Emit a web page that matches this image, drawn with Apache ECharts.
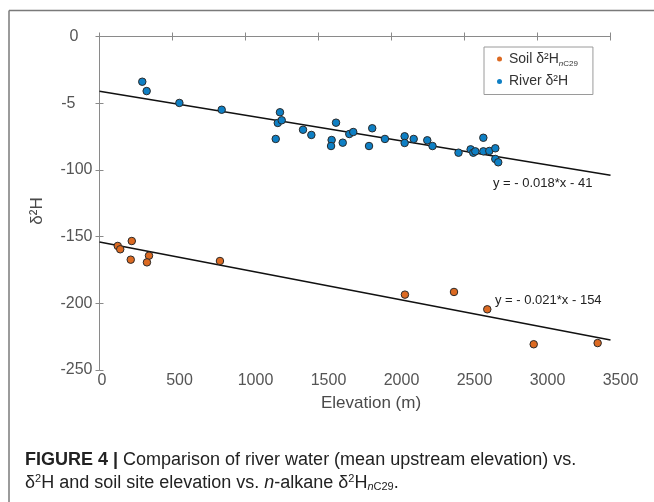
<!DOCTYPE html>
<html>
<head>
<meta charset="utf-8">
<title>Figure 4</title>
<script src="https://cdn.jsdelivr.net/npm/echarts@6/dist/echarts.min.js"></script>
<style>
  html, body { margin: 0; padding: 0; background: #fff; }
  #chart { width: 654px; height: 502px; }
</style>
</head>
<body>
<div id="chart"></div>
<script>
// River water: mean upstream elevation (m) vs. d2H
const riverElev = [293, 323, 547, 837, 1236, 1221, 1248, 1207, 1394, 1451,
  1620, 1590, 1586, 1666, 1711, 1738, 1868, 1846, 1955, 2090,
  2090, 2152, 2245, 2281, 2459, 2542, 2560, 2574, 2629, 2629,
  2670, 2711, 2711, 2731];
const riverD2H = [-33.9, -40.9, -49.8, -54.9, -56.8, -64.8, -62.8, -76.8, -69.9, -73.8,
  -64.6, -77.6, -82.1, -79.6, -73.1, -71.6, -68.8, -82.1, -76.8, -74.8,
  -79.8, -76.8, -77.8, -82.1, -87.1, -84.6, -87.1, -86.1, -75.9, -86.1,
  -85.8, -83.8, -91.8, -94.3];

// Soil sites: elevation (m) vs. n-alkane d2H nC29
const soilElev = [125, 142, 221, 214, 339, 325, 825, 2092, 2428, 2656, 2974, 3412];
const soilD2H = [-157.0, -159.5, -153.3, -167.3, -164.3, -169.3, -168.3, -193.5, -191.5, -204.5, -230.7, -229.8];

// regression lines as printed on the figure: [river, soil]
const fitSlope = [-0.018, -0.021];
const fitIntercept = [-41, -154];
const fitLabels = ['y = - 0.018*x - 41', 'y = - 0.021*x - 154'];

const xTicks = [0, 500, 1000, 1500, 2000, 2500, 3000, 3500];
const yTicks = [-250, -200, -150, -100, -50, 0];
const yTickLabels = ['-250', '-200', '-150', '-100', '-5', '0'];

const X_MIN = xTicks[0], X_MAX = xTicks[xTicks.length - 1];
const FONT = "'Liberation Sans', Arial, Helvetica, sans-serif";
const FRAME = '#8a8a8a';
const SOIL = '#dc6a22';
const RIVER = '#0e7fc4';

const zip = (xs, ys) => xs.map((x, i) => [x, ys[i]]);
const fitLine = (k) => [
  [X_MIN, fitSlope[k] * X_MIN + fitIntercept[k]],
  [X_MAX, fitSlope[k] * X_MAX + fitIntercept[k]],
];

const chart = echarts.init(document.getElementById('chart'), null, { renderer: 'canvas' });

const sideAxis = {
  axisLine: { show: true, lineStyle: { color: FRAME, width: 1 } },
  axisTick: { show: true, inside: true, length: 4, lineStyle: { color: FRAME } },
  splitLine: { show: false },
};

chart.setOption({
  animation: false,
  backgroundColor: '#fff',
  textStyle: { fontFamily: FONT },
  grid: { left: 99.5, right: 43.5, top: 36.5, bottom: 132, containLabel: false },
  legend: {
    data: ['Soil', 'River'],
    orient: 'vertical',
    left: 484,
    top: 47,
    icon: 'circle',
    itemWidth: 5,
    itemHeight: 5,
    itemGap: 7,
    padding: [5, 15, 6, 13],
    borderColor: '#9a9a9a',
    borderWidth: 1,
    borderRadius: 0,
    itemStyle: { borderWidth: 0 },
    textStyle: {
      fontFamily: FONT,
      fontSize: 14,
      color: '#333',
      padding: [0, 0, 0, 2],
      rich: {
        t: { fontSize: 14, color: '#333', lineHeight: 16, fontFamily: FONT },
        si: { fontSize: 8, fontStyle: 'italic', color: '#333', padding: [9, 0, 0, 0], fontFamily: FONT },
        s: { fontSize: 8, color: '#333', padding: [9, 0, 0, 0], fontFamily: FONT },
      },
    },
    formatter: (name) => name === 'Soil' ? '{t|Soil δ²H}{si|n}{s|C29}' : '{t|River δ²H}',
  },
  xAxis: [
    {
      type: 'value', min: X_MIN, max: X_MAX, interval: 500, position: 'bottom',
      ...sideAxis,
      name: 'Elevation (m)',
      nameLocation: 'middle',
      nameGap: 25,
      nameTextStyle: { fontSize: 17, color: '#4a4a4a', fontFamily: FONT, padding: [0, 0, 0, 32] },
      axisLabel: {
        margin: 3, fontSize: 16, color: '#555', fontFamily: FONT,
        formatter: (v) => {
          const s = String(v);
          return '{d' + s.length + '|' + s + '}';
        },
        rich: {
          d1: { fontSize: 16, color: '#555', padding: [0, 0, 0, 5], fontFamily: FONT },
          d3: { fontSize: 16, color: '#555', padding: [0, 0, 0, 14], fontFamily: FONT },
          d4: { fontSize: 16, color: '#555', padding: [0, 0, 0, 20], fontFamily: FONT },
        },
      },
    },
    {
      type: 'value', min: X_MIN, max: X_MAX, interval: 500, position: 'top',
      ...sideAxis,
      axisLabel: { show: false },
    },
  ],
  yAxis: [
    {
      type: 'value', min: yTicks[0], max: yTicks[yTicks.length - 1], interval: 50, position: 'left',
      ...sideAxis,
      axisLabel: {
        margin: 7, fontSize: 16, color: '#555', fontFamily: FONT,
        formatter: (v) => {
          const lab = yTickLabels[yTicks.indexOf(v)];
          if (lab === '0') return '{z|0}';
          if (lab === '-5') return '{f|-5}';
          return lab;
        },
        rich: {
          z: { fontSize: 16, color: '#555', padding: [0, 14, 0, 0], fontFamily: FONT },
          f: { fontSize: 16, color: '#555', padding: [0, 17, 0, 0], fontFamily: FONT },
        },
      },
    },
    {
      type: 'value', min: yTicks[0], max: yTicks[yTicks.length - 1], interval: 50, position: 'right',
      ...sideAxis,
      axisLabel: { show: false },
    },
  ],
  series: [
    {
      name: 'Soil', type: 'scatter', symbolSize: 7.5, data: zip(soilElev, soilD2H), z: 3,
      itemStyle: { color: SOIL, borderColor: '#2a2a2a', borderWidth: 1, opacity: 1 },
    },
    {
      name: 'River', type: 'scatter', symbolSize: 7.5, data: zip(riverElev, riverD2H), z: 3,
      itemStyle: { color: RIVER, borderColor: '#2a2a2a', borderWidth: 1, opacity: 1 },
    },
    {
      name: 'river fit', type: 'line', data: fitLine(0), showSymbol: false, symbol: 'none',
      lineStyle: { color: '#111', width: 1.5 }, z: 2, silent: true,
    },
    {
      name: 'soil fit', type: 'line', data: fitLine(1), showSymbol: false, symbol: 'none',
      lineStyle: { color: '#111', width: 1.5 }, z: 2, silent: true,
    },
  ],
  graphic: [
    // outer figure frame
    { type: 'line', shape: { x1: 9, y1: 10.5, x2: 654, y2: 10.5 }, style: { stroke: '#7a7a7a', lineWidth: 1.5 } },
    { type: 'line', shape: { x1: 9, y1: 10.5, x2: 9, y2: 502 }, style: { stroke: '#7a7a7a', lineWidth: 1.5 } },
    // y axis title
    {
      type: 'text', x: 37.5, y: 211, rotation: Math.PI / 2,
      style: { text: 'δ²H', fontSize: 17, fill: '#4a4a4a', fontFamily: FONT, align: 'center', verticalAlign: 'middle' },
    },
    // fit equations
    {
      type: 'text', x: 493, y: 183,
      style: { text: fitLabels[0], fontSize: 13, fill: '#222', fontFamily: FONT, verticalAlign: 'middle' },
    },
    {
      type: 'text', x: 495, y: 300,
      style: { text: fitLabels[1], fontSize: 13, fill: '#222', fontFamily: FONT, verticalAlign: 'middle' },
    },
    // caption
    {
      type: 'text', x: 25, y: 460,
      style: {
        text: '{b|FIGURE 4 |} Comparison of river water (mean upstream elevation) vs.',
        fontSize: 18, fill: '#222', fontFamily: FONT, verticalAlign: 'middle',
        rich: {
          b: { fontSize: 18, fontWeight: 'bold', fill: '#222', fontFamily: FONT },
        },
      },
    },
    {
      type: 'text', x: 25, y: 483,
      style: {
        text: 'δ{sup|2}H and soil site elevation vs. {i|n}-alkane δ{sup|2}H{si|n}{s|C29}.',
        fontSize: 18, fill: '#222', fontFamily: FONT, verticalAlign: 'middle',
        rich: {
          sup: { fontSize: 11, fill: '#222', fontFamily: FONT, padding: [0, 0, 9, 0] },
          i: { fontSize: 18, fontStyle: 'italic', fill: '#222', fontFamily: FONT },
          si: { fontSize: 11, fontStyle: 'italic', fill: '#222', fontFamily: FONT, padding: [7, 0, 0, 0] },
          s: { fontSize: 11, fill: '#222', fontFamily: FONT, padding: [7, 0, 0, 0] },
        },
      },
    },
  ],
});
</script>
</body>
</html>
